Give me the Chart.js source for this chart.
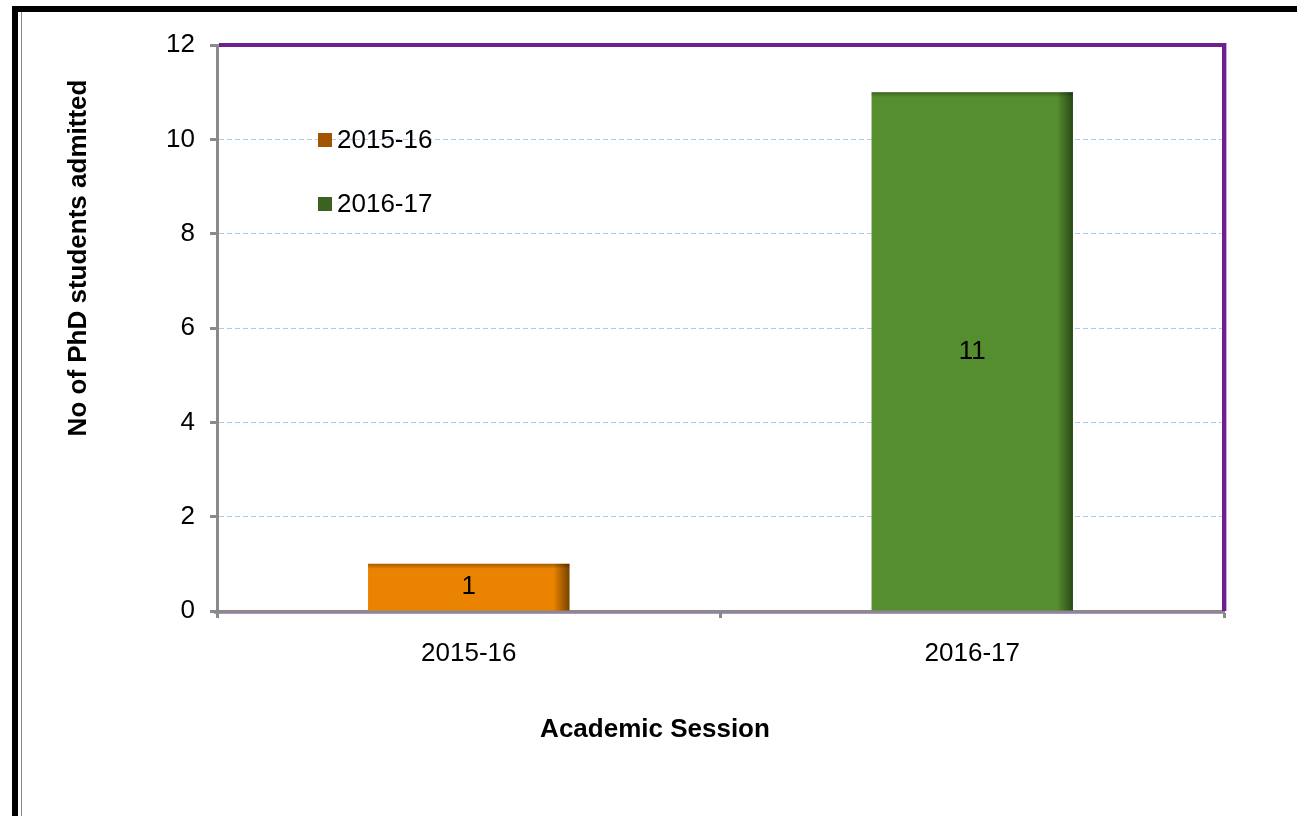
<!DOCTYPE html>
<html>
<head>
<meta charset="utf-8">
<script src="https://cdn.jsdelivr.net/npm/chart.js@4"></script>
<style>
  html, body { margin: 0; padding: 0; background: #fff; }
  #wrap { position: relative; width: 1297px; height: 816px; overflow: hidden; }
  #phdChart { position: absolute; left: 0; top: 0; }
  .edge { position: absolute; background: #000; }
</style>
</head>
<body>
<div id="wrap">
  <canvas id="phdChart" width="1297" height="816"></canvas>
  <div class="edge" style="left:12px;top:6px;right:0;height:6px"></div>
  <div class="edge" style="left:12px;top:6px;width:6px;bottom:0"></div>
  <div class="edge" style="left:21px;top:12px;width:1px;bottom:0;background:#8a8a8a"></div>
</div>
<script>
const sessions = ['2015-16', '2016-17'];
const admitted = [1, 11];
const barColors = ['#EA8300', '#558E2F'];
const legendColors = ['#A35400', '#3A6322'];
const yMax = 12;
const yStep = 2;

const FONT = '"Liberation Sans", Arial, sans-serif';

// purple frame of the plot area (top + right drawn over the grid)
const plotFrame = {
    id: 'plotFrame',
    beforeDraw(chart) {
        const a = chart.chartArea, ctx = chart.ctx;
        ctx.save();
        ctx.strokeStyle = '#B48FD0';
        ctx.lineWidth = 1;
        ctx.beginPath();
        ctx.moveTo(a.left - 3, a.bottom + 2.5);
        ctx.lineTo(a.right, a.bottom + 2.5);
        ctx.stroke();
        ctx.restore();
    },
    beforeDatasetsDraw(chart) {
        const a = chart.chartArea, ctx = chart.ctx;
        ctx.save();
        ctx.strokeStyle = '#70208E';
        ctx.lineWidth = 4;
        ctx.beginPath();
        ctx.moveTo(a.left + 2, a.top);
        ctx.lineTo(a.right, a.top);
        ctx.lineTo(a.right, a.bottom);
        ctx.stroke();
        ctx.strokeStyle = '#C7A8E0';
        ctx.lineWidth = 1;
        ctx.beginPath();
        ctx.moveTo(a.right + 2.5, a.top - 2);
        ctx.lineTo(a.right + 2.5, a.bottom);
        ctx.stroke();
        ctx.restore();
    }
};

// shading on bars + value labels
const barDecor = {
    id: 'barDecor',
    afterDatasetsDraw(chart) {
        const ctx = chart.ctx;
        const meta = chart.getDatasetMeta(0);
        meta.data.forEach((bar, i) => {
            const left = bar.x - bar.width / 2, right = bar.x + bar.width / 2;
            const h = bar.base - bar.y;
            ctx.save();
            let g = ctx.createLinearGradient(right - 16, 0, right, 0);
            g.addColorStop(0, 'rgba(0,0,0,0)');
            g.addColorStop(1, 'rgba(0,0,0,0.5)');
            ctx.fillStyle = g;
            ctx.fillRect(right - 16, bar.y, 16, h);
            g = ctx.createLinearGradient(0, bar.y, 0, bar.y + 5);
            g.addColorStop(0, 'rgba(0,0,0,0.3)');
            g.addColorStop(1, 'rgba(0,0,0,0)');
            ctx.fillStyle = g;
            ctx.fillRect(left, bar.y, bar.width, 5);

            ctx.fillStyle = '#000';
            ctx.font = '26px ' + FONT;
            ctx.textAlign = 'center';
            ctx.textBaseline = 'middle';
            ctx.fillText(String(admitted[i]), bar.x, (bar.y + bar.base) / 2);
            ctx.restore();
        });
    }
};

// legend inside the plot + axis titles
const labelsPlugin = {
    id: 'labelsPlugin',
    afterDraw(chart) {
        const a = chart.chartArea, ctx = chart.ctx;
        ctx.save();
        sessions.forEach((s, i) => {
            const cy = a.top + 95 + i * 64;
            ctx.fillStyle = legendColors[i];
            ctx.fillRect(a.left + 101, cy - 7, 14, 14);
            ctx.fillStyle = '#000';
            ctx.font = '26px ' + FONT;
            ctx.textAlign = 'left';
            ctx.textBaseline = 'middle';
            ctx.fillText(s, a.left + 120, cy + 1);
        });

        ctx.font = 'bold 26px ' + FONT;
        ctx.fillStyle = '#000';
        ctx.textAlign = 'center';
        ctx.textBaseline = 'middle';
        ctx.fillText('Academic Session', a.left + 438, a.bottom + 119);

        ctx.translate(79, a.top + 213);
        ctx.rotate(-Math.PI / 2);
        ctx.fillText('No of PhD students admitted', 0, 0);
        ctx.restore();
    }
};

const ctx = document.getElementById('phdChart').getContext('2d');
const phdChart = new Chart(ctx, {
    type: 'bar',
    data: {
        labels: sessions,
        datasets: [{
            label: 'No of PhD students admitted',
            data: admitted,
            backgroundColor: barColors,
            borderWidth: 0,
            barPercentage: 0.4,
            categoryPercentage: 1.0
        }]
    },
    options: {
        responsive: false,
        animation: false,
        devicePixelRatio: 1,
        layout: {
            padding: { left: 0, top: 45, right: 73, bottom: 0 }
        },
        plugins: {
            legend: { display: false },
            tooltip: { enabled: false }
        },
        scales: {
            x: {
                afterFit: (scale) => { scale.height = 205; },
                grid: {
                    drawOnChartArea: false,
                    offset: true,
                    tickLength: 7,
                    tickWidth: 3,
                    tickColor: '#8a8a8a'
                },
                border: { color: '#8a8a8a', width: 3 },
                ticks: {
                    color: '#000',
                    padding: 20,
                    font: { family: FONT, size: 26 }
                }
            },
            y: {
                min: 0,
                max: yMax,
                afterFit: (scale) => { scale.width = 217; },
                grid: {
                    color: '#A9CDF0',
                    lineWidth: 1,
                    tickLength: 7,
                    tickWidth: 3,
                    tickColor: '#8a8a8a',
                    tickBorderDash: []
                },
                border: { color: '#8a8a8a', width: 3, dash: [5, 3] },
                ticks: {
                    stepSize: yStep,
                    color: '#000',
                    padding: 15,
                    font: { family: FONT, size: 26 }
                }
            }
        }
    },
    plugins: [plotFrame, barDecor, labelsPlugin]
});
</script>
</body>
</html>
